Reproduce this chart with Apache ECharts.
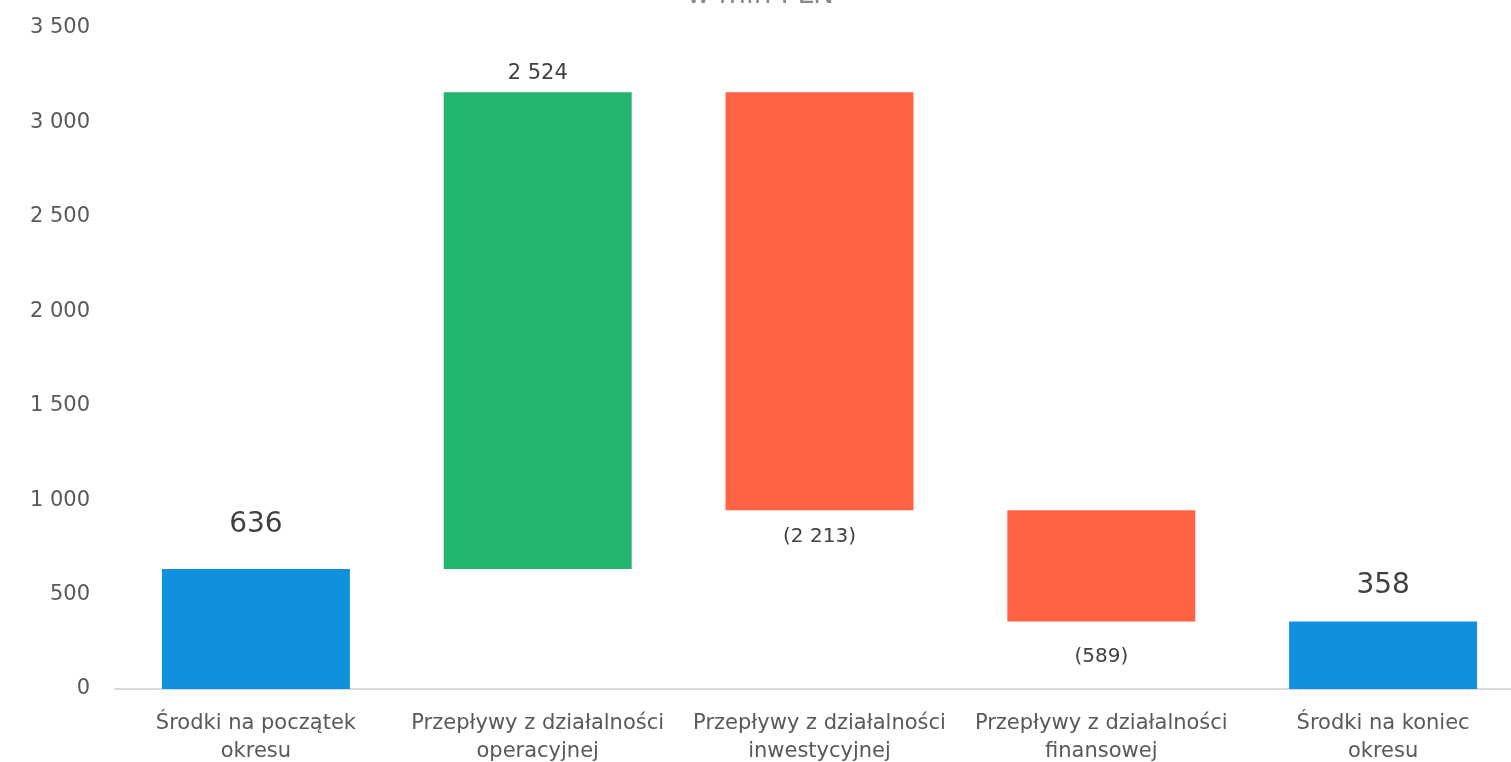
<!DOCTYPE html>
<html>
<head>
<meta charset="utf-8">
<script src="https://cdn.jsdelivr.net/npm/echarts@6/dist/echarts.min.js"></script>
<style>
  html, body { margin: 0; padding: 0; background: #fff; }
  #wykres { width: 1511px; height: 762px; }
</style>
</head>
<body>
<div id="wykres"></div>
<script>
// dane (mln PLN)
const kategorie = [
  "Środki na początek\nokresu",
  "Przepływy z działalności\noperacyjnej",
  "Przepływy z działalności\ninwestycyjnej",
  "Przepływy z działalności\nfinansowej",
  "Środki na koniec\nokresu",
];
const wartosci = [636, 2524, -2213, -589, 358];
const typy = ["suma", "zmiana", "zmiana", "zmiana", "suma"];
const osY = [0, 500, 1000, 1500, 2000, 2500, 3000, 3500];

const kolory = { suma: "#1191DD", plus: "#23B56E", minus: "#FF6242" };

function formatLiczby(n) {
  return String(Math.round(Math.abs(n))).replace(/\B(?=(\d{3})+(?!\d))/g, " ");
}

// podstawa (niewidoczna) i wysokość słupka
const podstawa = [];
const slupki = [];
let biezacy = 0;
for (let i = 0; i < wartosci.length; i++) {
  const v = wartosci[i];
  if (typy[i] === "suma") {
    podstawa.push(0);
    slupki.push(v);
    biezacy = v;
  } else if (v >= 0) {
    podstawa.push(biezacy);
    slupki.push(v);
    biezacy += v;
  } else {
    podstawa.push(biezacy + v);
    slupki.push(-v);
    biezacy += v;
  }
}

const daneSlupkow = slupki.map(function (h, i) {
  const v = wartosci[i];
  let kolor = kolory.suma;
  if (typy[i] !== "suma") kolor = v >= 0 ? kolory.plus : kolory.minus;
  let label;
  if (typy[i] === "suma") {
    label = { position: "top", fontSize: 28, distance: i === 0 ? 30 : 22, formatter: formatLiczby(v) };
  } else if (v >= 0) {
    label = { position: "top", fontSize: 21, distance: 8, formatter: formatLiczby(v) };
  } else {
    label = { position: "bottom", fontSize: 20, distance: i === 2 ? 17 : 25, formatter: "(" + formatLiczby(v) + ")" };
  }
  return { value: h, itemStyle: { color: kolor }, label: label };
});

const font = "DejaVu Sans";

const option = {
  animation: false,
  title: {
    text: "w mln PLN",
    left: 682,
    top: -23,
    textStyle: { fontFamily: font, fontSize: 28, color: "#8a8a8a", fontWeight: "normal" },
  },
  grid: { left: 115, right: -13, top: 28, bottom: 73, outerBoundsMode: "none" },
  xAxis: {
    type: "category",
    data: kategorie,
    axisLine: { lineStyle: { color: "#d9d9d9", width: 2 } },
    axisTick: { show: false },
    axisLabel: {
      interval: 0,
      margin: 21,
      color: "#595959",
      fontFamily: font,
      fontSize: 21,
      lineHeight: 28,
    },
  },
  yAxis: {
    type: "value",
    min: 0,
    max: 3500,
    interval: 500,
    splitLine: { show: false },
    axisLine: { show: false },
    axisTick: { show: false },
    axisLabel: {
      margin: 25,
      color: "#595959",
      fontFamily: font,
      fontSize: 21,
      formatter: function (v) { return formatLiczby(v); },
    },
  },
  series: [
    {
      type: "bar",
      stack: "w",
      data: podstawa,
      itemStyle: { color: "transparent" },
      emphasis: { disabled: true },
      silent: true,
      barWidth: "66.7%",
    },
    {
      type: "bar",
      stack: "w",
      data: daneSlupkow,
      barWidth: "66.7%",
      label: { show: true, color: "#404040", fontFamily: font },
    },
  ],
};

const chart = echarts.init(document.getElementById("wykres"));
chart.setOption(option);
window.addEventListener("resize", chart.resize);
</script>
</body>
</html>
